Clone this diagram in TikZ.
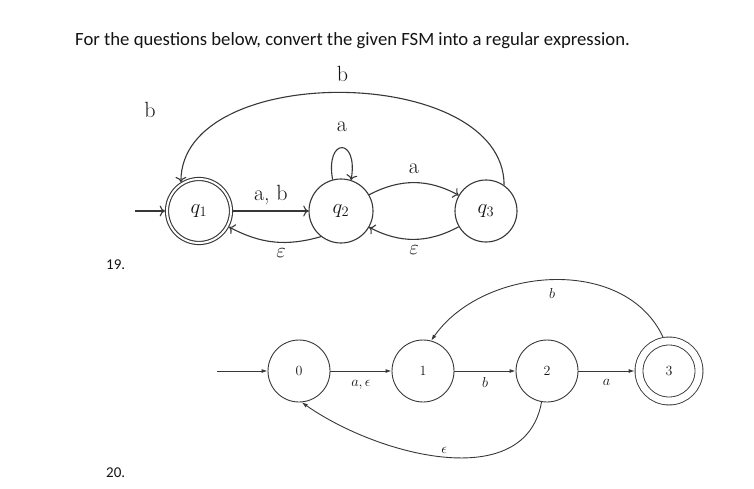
\documentclass[tikz,border=0pt]{standalone}
\usepackage{fontspec}
\setsansfont{Carlito}
\usetikzlibrary{arrows.meta,calc}
\definecolor{LineClr}{RGB}{55,55,55}
\definecolor{TextClr}{RGB}{20,20,20}

\begin{document}
\begin{tikzpicture}[x=1pt,y=-1pt,
  every node/.style={inner sep=0pt,text=TextClr},
  stateA/.style={circle,draw=LineClr,line width=1.1pt,minimum size=64pt,font=\fontsize{22}{24}\selectfont},
  stateB/.style={circle,draw=LineClr,line width=0.9pt,minimum size=62pt,font=\fontsize{14}{16}\selectfont},
  edgeA/.style={draw=LineClr,line width=1.1pt,-{To[scale=1.3]}},
  edgeB/.style={draw=LineClr,line width=0.9pt,-{Latex[length=6pt,width=4pt]}},
  lblA/.style={font=\fontsize{22}{24}\selectfont},
  lblB/.style={font=\fontsize{14}{16}\selectfont},
  note/.style={font=\sffamily\fontsize{18.7}{22}\selectfont,anchor=west}]
\useasboundingbox (0,0) rectangle (754,489);

\node[note] (title) at (75,41) {For the questions below, convert the given FSM into a regular expression.};
\node[note,font=\sffamily\fontsize{15}{18}\selectfont] (n19) at (106,265) {19.};
\node[note,font=\sffamily\fontsize{15}{18}\selectfont] (n20) at (106,473) {20.};

% 19
\node[stateA,double,double distance=2pt,outer sep=2.1pt] (q1) at (199,211) {$q_1$};
\node[stateA] (q2) at (341,211) {$q_2$};
\node[stateA,minimum size=62pt] (q3) at (486,211) {$q_3$};
\coordinate (in1) at (135,211);
\node[lblA] (bl) at (150,110) {b};

\draw[edgeA] (in1) -- (q1);
\draw[edgeA] (q1) -- node[lblA,midway,above=6pt] {a, b} (q2);
\draw[edgeA] (q2.232) to[bend left=22] node[lblA,pos=.42,below=6pt] {$\varepsilon$} (q1.-28);
\draw[edgeA] (q2.105) to[out=100,in=80,looseness=6] node[lblA,midway,above=16pt] {a} (q2.72);
\draw[edgeA] (q2.30) to[bend left=28] node[lblA,midway,above=8pt] {a} (q3.150);
\draw[edgeA] (q3.210) to[bend left=28] node[lblA,midway,below=6pt] {$\varepsilon$} (q2.-30);
\draw[edgeA] (q3.55) to[out=90,in=90,looseness=0.96] node[lblA,midway,above=10pt] {b} (q1.122);

% 20
\node[stateB] (s0) at (299,371) {0};
\node[stateB] (s1) at (423,371) {1};
\node[stateB] (s2) at (547,371) {2};
\node[stateB,minimum size=60pt,double,double distance=7pt,outer sep=4.4pt] (s3) at (669,371) {3};
\coordinate (in2) at (217,371);

\draw[edgeB] (in2) -- (s0);
\draw[edgeB] (s0) -- node[lblB,midway,below=9pt] {$a,\epsilon$} (s1);
\draw[edgeB] (s1) -- node[lblB,midway,below=6pt] {$b$} (s2);
\draw[edgeB] (s2) -- node[lblB,midway,below=8pt] {$a$} (s3);
\draw[edgeB] (s3.100) to[out=115,in=55] node[lblB,midway,below=8pt] {$b$} (s1.75);
\draw[edgeB] (s2.260) to[out=-100,in=-35] node[lblB,midway,above=3pt] {$\epsilon$} (s0.275);

\end{tikzpicture}
\end{document}
